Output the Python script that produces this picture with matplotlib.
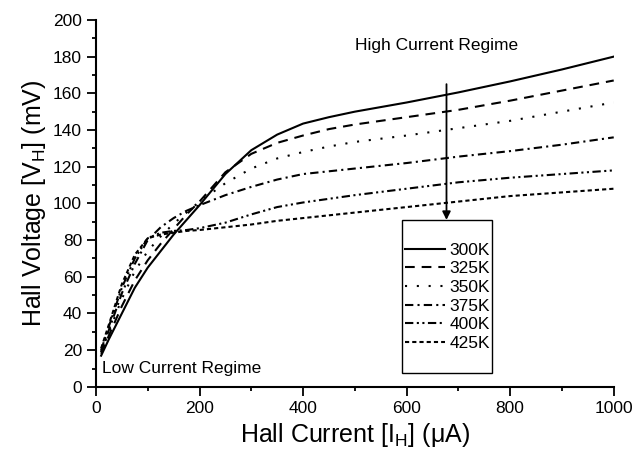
import matplotlib
matplotlib.use('Agg')
import matplotlib.pyplot as plt
from matplotlib.patches import Rectangle
from matplotlib.ticker import MultipleLocator

plt.rcParams['font.family'] = ['Liberation Sans', 'DejaVu Sans']
plt.rcParams['mathtext.fontset'] = 'custom'
plt.rcParams['mathtext.rm'] = 'Liberation Sans'
plt.rcParams['lines.scale_dashes'] = False

# Hall current (uA)
current = [10, 25, 50, 75, 100, 125, 150, 175, 200, 250,
           300, 350, 400, 450, 500, 600, 700, 800, 900, 1000]

# Hall voltage (mV) per temperature
v_300 = [17, 26, 40, 54, 65, 74, 83, 91, 99, 116,
         129, 137.5, 143.5, 147, 150, 155, 160.5, 166.5, 173, 180]
v_325 = [18, 28, 44, 58, 69, 78, 86, 94, 101, 117,
         127, 133, 137, 140.5, 143, 147, 151, 156, 161.5, 167]
v_350 = [19, 30, 48, 63, 74, 82, 89, 95, 101, 111,
         119, 124.5, 128, 131, 133.5, 137, 141, 145, 150, 155]
v_375 = [19, 31, 51, 67, 80, 87, 92, 96, 99, 104.5,
         109, 113, 116, 117.5, 119, 122, 125.5, 128.5, 132, 136]
v_400 = [20, 33, 54, 70, 81, 84, 85, 85.5, 86.5, 89.5,
         94, 98, 100.5, 102.5, 104.5, 108, 111.5, 114, 116, 118]
v_425 = [21, 34, 56, 72, 81, 83, 84, 85, 85.5, 87,
         88.5, 90.5, 92, 93.5, 95, 98, 101, 104, 106, 108]

labels = ['300K', '325K', '350K', '375K', '400K', '425K']
series = [v_300, v_325, v_350, v_375, v_400, v_425]
styles = ['-', (0, (7, 5)), (0, (1.5, 7)), (0, (6, 3, 1.5, 3)),
          (0, (6, 2.5, 1.5, 2.5, 1.5, 2.5)), (0, (3, 2.2))]

fig = plt.figure(figsize=(6.44, 4.53), dpi=100)
ax = fig.add_axes([0.149, 0.146, 0.804, 0.81])

lines = []
for vals, ls, lab in zip(series, styles, labels):
    ln, = ax.plot(current, vals, color='black', linestyle=ls, lw=1.5, label=lab)
    lines.append(ln)

ax.set_xlim(0, 1000)
ax.set_ylim(0, 200)
ax.xaxis.set_major_locator(MultipleLocator(200))
ax.xaxis.set_minor_locator(MultipleLocator(100))
ax.yaxis.set_major_locator(MultipleLocator(20))
ax.yaxis.set_minor_locator(MultipleLocator(10))
ax.tick_params(which='major', direction='out', length=6.5, width=1.3, labelsize=12.5)
ax.tick_params(which='minor', direction='out', length=3.2, width=1.3)
ax.spines['top'].set_visible(False)
ax.spines['right'].set_visible(False)
ax.spines['left'].set_linewidth(1.5)
ax.spines['bottom'].set_linewidth(1.5)

ax.set_xlabel('Hall Current [I$_\\mathregular{H}$] (\u03bcA)', fontsize=18, labelpad=4)
ax.set_ylabel('Hall Voltage [V$_\\mathregular{H}$] (mV)', fontsize=18, labelpad=4)

ax.text(500, 186, 'High Current Regime', fontsize=12.5, va='center', ha='left')
ax.text(11, 10, 'Low Current Regime', fontsize=12.5, va='center', ha='left')

ax.annotate('', xy=(677, 91), xytext=(677, 165),
            arrowprops=dict(arrowstyle='-|>', color='black', lw=1.3,
                            mutation_scale=12, shrinkA=0, shrinkB=0))

leg = ax.legend(handles=lines, loc='center', bbox_to_anchor=(0.695, 0.345),
                bbox_transform=fig.transFigure, frameon=False, fontsize=12.5,
                handlelength=2.3, handletextpad=0.25, labelspacing=0.2,
                borderpad=0.2)

# legend box drawn separately (tall padding in the original)
box = Rectangle((402 / 644, 1 - 373 / 453), 90 / 644, 153 / 453,
                transform=fig.transFigure, fill=False, edgecolor='black', lw=1.0)
fig.patches.append(box)

fig.savefig('out.png', dpi=100)
